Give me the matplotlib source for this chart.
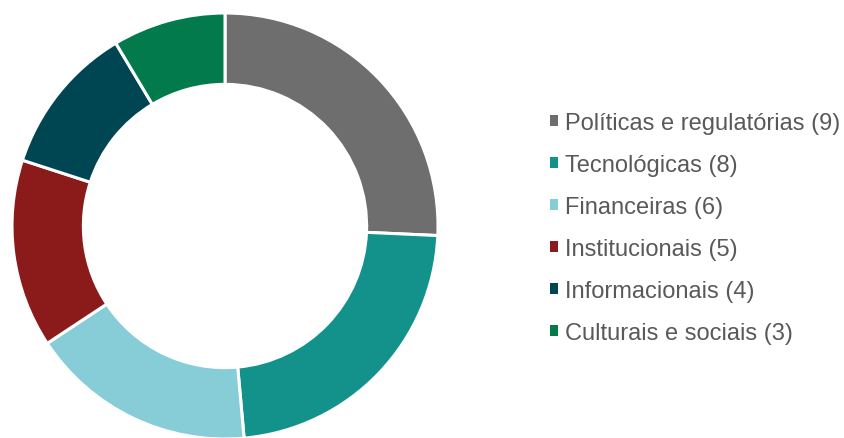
import matplotlib.pyplot as plt
from matplotlib.patches import Patch

# data
categories = ['Políticas e regulatórias', 'Tecnológicas', 'Financeiras',
              'Institucionais', 'Informacionais', 'Culturais e sociais']
counts = [9, 8, 6, 5, 4, 3]
colors = ['#6E6E6E', '#12928A', '#86CDD7', '#8B1A1A', '#004552', '#027A4B']

plt.rcParams['font.family'] = ['Liberation Sans', 'DejaVu Sans']

fig = plt.figure(figsize=(8.44, 4.39), dpi=100)
ax = fig.add_axes([12/844, -1/439, 426/844, 426/439])
ax.pie(counts, colors=colors, startangle=90, counterclock=False,
       wedgeprops=dict(width=0.335, edgecolor='white', linewidth=2.2))
ax.set_aspect('equal')
ax.set_xlim(-1, 1)
ax.set_ylim(-1, 1)

labels = [f'{c} ({n})' for c, n in zip(categories, counts)]
handles = [Patch(facecolor=col, edgecolor='none') for col in colors]
leg = fig.legend(handles, labels, loc='upper left', bbox_to_anchor=(550/844, 1 - 113/439),
                 frameon=False, fontsize=17, labelcolor='#595959',
                 handlelength=0.33, handleheight=0.33, handletextpad=0.3,
                 labelspacing=0.85, borderpad=0, borderaxespad=0)

fig.savefig('out.png', dpi=100)
